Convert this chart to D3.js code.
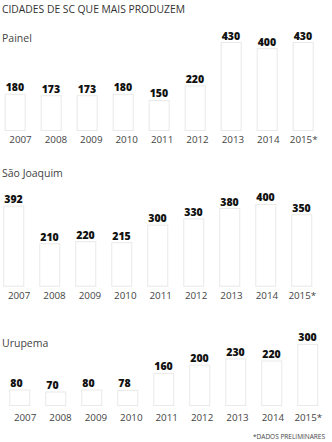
<!DOCTYPE html>
<html>
<head>
<meta charset="utf-8">
<script src="https://cdn.jsdelivr.net/npm/d3@7"></script>
<style>
  body { margin: 0; background: #fff; }
  text { font-family: "Open Sans", sans-serif; }
</style>
</head>
<body>
<div id="chart"></div>
<script>
var years = ["2007", "2008", "2009", "2010", "2011", "2012", "2013", "2014", "2015*"];
var cities = ["Painel", "São Joaquim", "Urupema"];
var painel = [180, 173, 173, 180, 150, 220, 430, 400, 430];
var saoJoaquim = [392, 210, 220, 215, 300, 330, 380, 400, 350];
var urupema = [80, 70, 80, 78, 160, 200, 230, 220, 300];

var svgWidth = 332;
var svgHeight = 442;

var svg = d3.select("#chart")
  .append("svg")
  .attr("width", svgWidth)
  .attr("height", svgHeight);

// title
svg.append("text")
  .attr("x", 2)
  .attr("y", 12.5)
  .attr("font-size", 10.8)
  .attr("fill", "#333")
  .attr("textLength", 183)
  .attr("lengthAdjust", "spacingAndGlyphs")
  .text("CIDADES DE SC QUE MAIS PRODUZEM");

// each panel: where its name sits, where bars sit, small horizontal shift
var panels = [
  { name: cities[0], values: painel, nameY: 41.5, bottom: 131, shift: 0, yearY: 142.5 },
  { name: cities[1], values: saoJoaquim, nameY: 176.5, bottom: 286.7, shift: -1.4, yearY: 299 },
  { name: cities[2], values: urupema, nameY: 347, bottom: 406, shift: 4.6, yearY: 420.5 }
];

var xBand = d3.scaleBand()
  .domain(years)
  .range([4.7, 313.7])
  .paddingInner(15 / 36)
  .paddingOuter(0);

var xLabel = d3.scalePoint()
  .domain(years)
  .range([20.5, 303.7]);

panels.forEach(function(p) {
  var g = svg.append("g")
    .attr("transform", `translate(${p.shift}, 0)`);

  var yScale = d3.scaleLinear()
    .domain([0, 430])
    .range([p.bottom, p.bottom - 89]);

  svg.append("text")
    .attr("x", 2)
    .attr("y", p.nameY)
    .attr("font-size", 10.5)
    .attr("fill", "#444")
    .text(p.name);

  g.selectAll("rect")
    .data(p.values)
    .enter()
    .append("rect")
    .attr("x", (d, i) => xBand(years[i]) + 0.5)
    .attr("y", d => yScale(d) + 0.5)
    .attr("width", xBand.bandwidth() - 1)
    .attr("height", d => p.bottom - yScale(d) - 1)
    .attr("fill", "#fff")
    .attr("stroke", "#e9e9e9")
    .attr("stroke-width", 1);

  g.selectAll("text.val")
    .data(p.values)
    .enter()
    .append("text")
    .attr("class", "val")
    .attr("x", (d, i) => xBand(years[i]) + 1)
    .attr("y", d => yScale(d) - 2.5)
    .attr("font-size", 10.5)
    .attr("font-weight", 800)
    .attr("fill", "#111")
    .text(d => d);

  g.selectAll("text.year")
    .data(years)
    .enter()
    .append("text")
    .attr("class", "year")
    .attr("x", d => xLabel(d))
    .attr("y", p.yearY)
    .attr("text-anchor", "middle")
    .attr("font-size", 9.8)
    .attr("fill", "#444")
    .text(d => d);
});

svg.append("text")
  .attr("x", 325)
  .attr("y", 439)
  .attr("text-anchor", "end")
  .attr("font-size", 6.5)
  .attr("fill", "#444")
  .attr("textLength", 72)
  .attr("lengthAdjust", "spacingAndGlyphs")
  .text("*DADOS PRELIMINARES");
</script>
</body>
</html>
